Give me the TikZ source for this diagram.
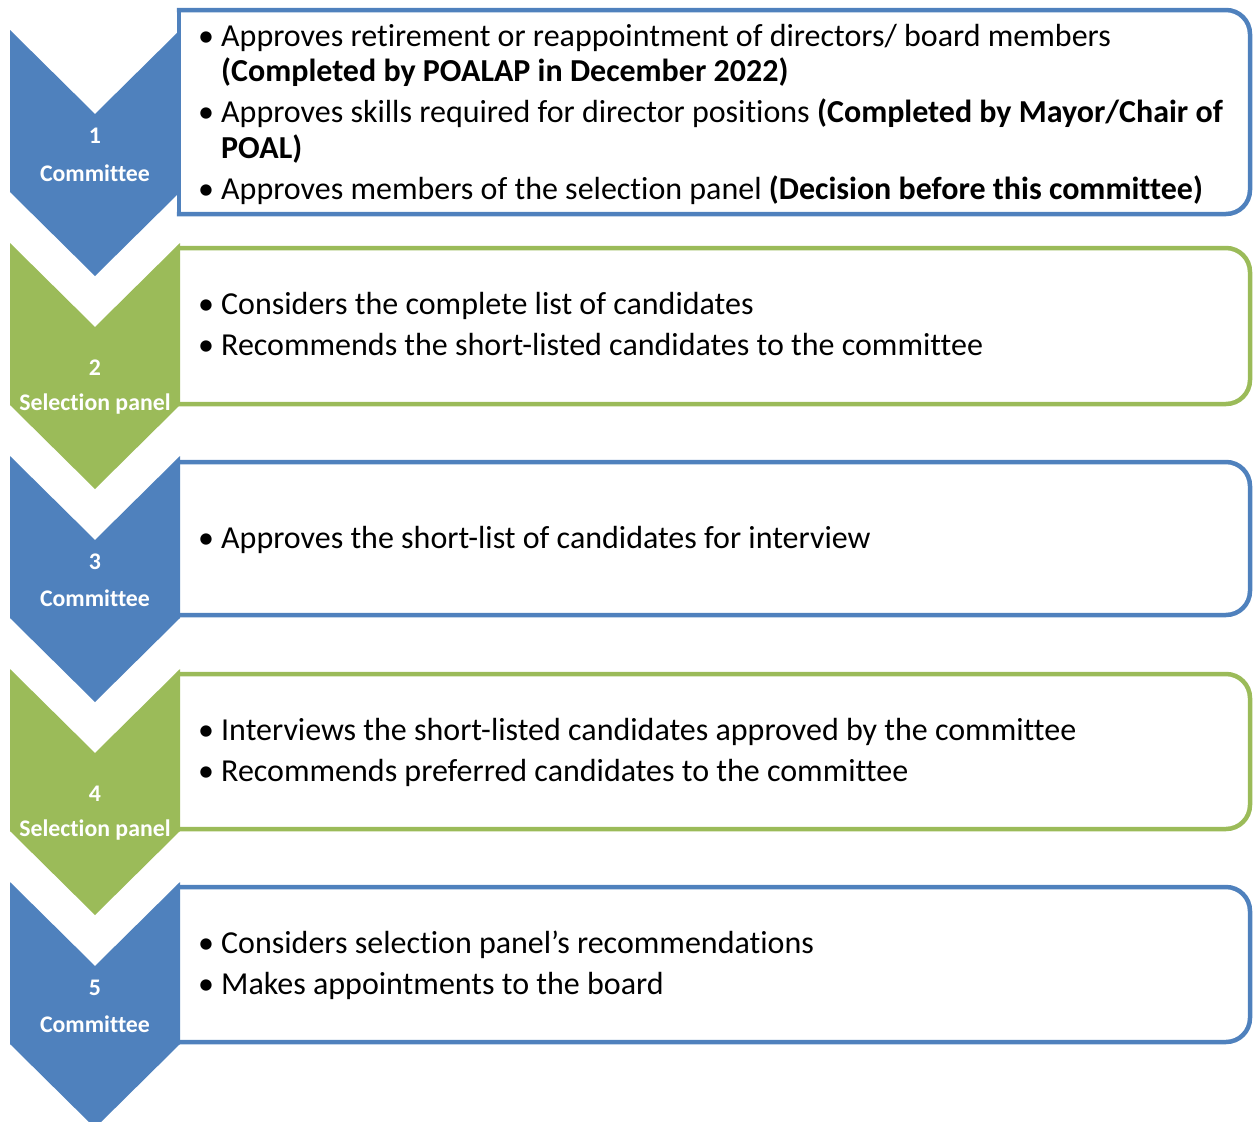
\documentclass[tikz,border=0pt]{standalone}
\usepackage{fontspec}
\setmainfont{Carlito}[Ligatures=NoCommon]

\definecolor{stepblue}{HTML}{4F81BD}
\definecolor{stepgreen}{HTML}{9BBB59}

\newcommand{\bul}{\makebox[23pt][l]{\textbullet}}

\tikzset{
  listbox/.style={draw=#1, fill=white, line width=4.5pt, line cap=rect, rounded corners=24pt},
  boxedge/.style={draw=#1, line width=4.5pt, line cap=rect},
  steplabel/.style={text=white, font=\bfseries\fontsize{23.8}{28}\selectfont, inner sep=0pt, anchor=base},
  itemtext/.style={font=\fontsize{32}{37}\selectfont, inner sep=0pt, anchor=base west},
}

\begin{document}
\begin{tikzpicture}[x=1pt,y=-1pt]
    \useasboundingbox (0,0) rectangle (1259,1122);

    % boxes, square on the left, round on the right
    \draw[listbox=stepblue] (179,10) -- (1250,10) -- (1250,214) -- (179,214);
    \draw[boxedge=stepblue] (179,10) -- (179,214);
    \draw[listbox=stepgreen] (179,248) -- (1250,248) -- (1250,404) -- (179,404);
    \draw[listbox=stepblue] (179,462) -- (1250,462) -- (1250,615) -- (179,615);
    \draw[listbox=stepgreen] (179,674) -- (1250,674) -- (1250,829) -- (179,829);
    \draw[listbox=stepblue] (179,887) -- (1250,887) -- (1250,1042) -- (179,1042);

    % chevrons
    \fill[stepblue] (10,30) -- (95,114) -- (180,30) -- (180,192) -- (95,276) -- (10,192) -- cycle;
    \fill[stepgreen] (10,243) -- (95,327) -- (180,243) -- (180,405) -- (95,489) -- (10,405) -- cycle;
    \fill[stepblue] (10,456) -- (95,540) -- (180,456) -- (180,618) -- (95,702) -- (10,618) -- cycle;
    \fill[stepgreen] (10,669) -- (95,753) -- (180,669) -- (180,831) -- (95,915) -- (10,831) -- cycle;
    \fill[stepblue] (10,882) -- (95,966) -- (180,882) -- (180,1044) -- (95,1128) -- (10,1044) -- cycle;

    \node[steplabel] (n1) at (95,143) {1};
    \node[steplabel] (s1) at (95,181) {Committee};
    \node[steplabel] (n2) at (95,375) {2};
    \node[steplabel] (s2) at (95,410) {Selection panel};
    \node[steplabel] (n3) at (95,569) {3};
    \node[steplabel] (s3) at (95,606) {Committee};
    \node[steplabel] (n4) at (95,801) {4};
    \node[steplabel] (s4) at (95,836) {Selection panel};
    \node[steplabel] (n5) at (95,995) {5};
    \node[steplabel] (s5) at (95,1032) {Committee};

    % list texts
    \node[itemtext] (t11) at (198,46) {\bul Approves retirement or reappointment of directors/ board members};
    \node[itemtext] (t12) at (221,81) {\textbf{(Completed by POALAP in December 2022)}};
    \node[itemtext] (t13) at (198,122) {\bul Approves skills required for director positions \textbf{(Completed by Mayor/Chair of}};
    \node[itemtext] (t14) at (221,158) {\textbf{POAL)}};
    \node[itemtext] (t15) at (198,199) {\bul Approves members of the selection panel \textbf{(Decision before this committee)}};

    \node[itemtext] (t21) at (198,314) {\bul Considers the complete list of candidates};
    \node[itemtext] (t22) at (198,355) {\bul Recommends the short-listed candidates to the committee};

    \node[itemtext] (t31) at (198,548) {\bul Approves the short-list of candidates for interview};

    \node[itemtext] (t41) at (198,740) {\bul Interviews the short-listed candidates approved by the committee};
    \node[itemtext] (t42) at (198,781) {\bul Recommends preferred candidates to the committee};

    \node[itemtext] (t51) at (198,953) {\bul Considers selection panel’s recommendations};
    \node[itemtext] (t52) at (198,994) {\bul Makes appointments to the board};
\end{tikzpicture}
\end{document}
